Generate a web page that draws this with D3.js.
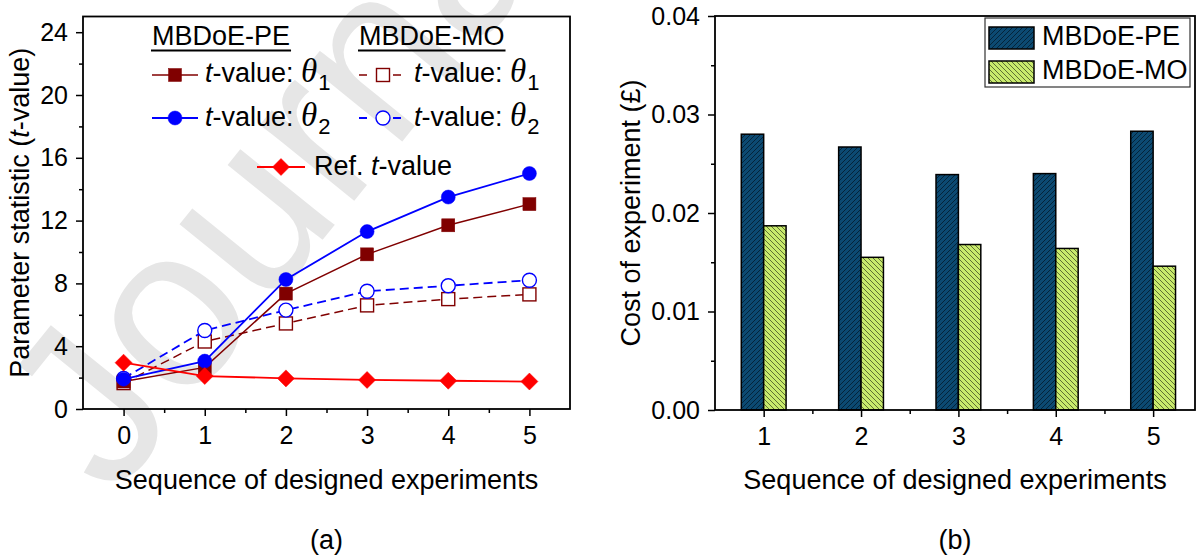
<!DOCTYPE html>
<html>
<head>
<meta charset="utf-8">
<script src="https://cdn.jsdelivr.net/npm/d3@7"></script>
<style>
  body { margin: 0; background: #fff; }
  svg { display: block; font-family: Arial, "Liberation Sans", sans-serif; }
</style>
</head>
<body>
<svg id="fig" width="1198" height="557"></svg>
<script>
// ---- data ----
// (a) t-values per designed experiment
const steps = [0, 1, 2, 3, 4, 5];
const peTheta1 = [1.75, 2.65, 7.35, 9.85, 11.7, 13.05];
const peTheta2 = [1.9, 3.05, 8.25, 11.3, 13.5, 15.0];
const moTheta1 = [1.65, 4.3, 5.45, 6.6, 7.0, 7.3];
const moTheta2 = [1.95, 5.0, 6.3, 7.5, 7.85, 8.2];
const refT = [2.95, 2.1, 1.95, 1.85, 1.8, 1.75];
const tTicks = [0, 4, 8, 12, 16, 20, 24];
const tMinor = [2, 6, 10, 14, 18, 22];
const stepMinor = [0.5, 1.5, 2.5, 3.5, 4.5];

// (b) cost per experiment
const experiments = [1, 2, 3, 4, 5];
const costPE = [0.0280, 0.0267, 0.0239, 0.0240, 0.0283];
const costMO = [0.0187, 0.0155, 0.0168, 0.0164, 0.0146];
const costTicks = [0, 0.01, 0.02, 0.03, 0.04];
const costMinor = [0.005, 0.015, 0.025, 0.035];
const expMinor = [1.5, 2.5, 3.5, 4.5];

const svg = d3.select('#fig');
const defs = svg.append('defs');

// hatch fills like Origin's
const hatchPE = defs.append('pattern').attr('id', 'hatchPE')
    .attr('patternUnits', 'userSpaceOnUse').attr('width', 5).attr('height', 5);
hatchPE.append('rect').attr('width', 5).attr('height', 5).attr('fill', '#0c4a72');
hatchPE.append('path').attr('d', 'M-1,1 L1,-1 M0,5 L5,0 M4,6 L6,4')
    .attr('stroke', '#04243a').attr('stroke-width', 1);

const hatchMO = defs.append('pattern').attr('id', 'hatchMO')
    .attr('patternUnits', 'userSpaceOnUse').attr('width', 5).attr('height', 5);
hatchMO.append('rect').attr('width', 5).attr('height', 5).attr('fill', '#c8ea6c');
hatchMO.append('path').attr('d', 'M-1,4 L1,6 M0,0 L5,5 M4,-1 L6,1')
    .attr('stroke', '#52622c').attr('stroke-width', 0.9);

// watermark
svg.append('text')
    .attr('transform', 'translate(112,500) rotate(-51)')
    .attr('font-size', 229)
    .attr('fill', '#e6e6e6')
    .text('Journal Pre-proof');

// draws ticks (major + minor) and a closed frame
function drawAxes(g, x, y, box, xMajor, xMin, yMajor, yMin, yFmt) {
    const styleAxis = sel => {
        sel.select('.domain').remove();
        sel.selectAll('.tick line').attr('stroke', '#000').attr('stroke-width', 1.5);
        sel.selectAll('.tick text').attr('fill', '#000').attr('font-size', 25)
            .attr('font-family', 'Arial, "Liberation Sans", sans-serif');
    };
    g.append('g').attr('transform', `translate(0,${box.bottom})`)
        .call(d3.axisBottom(x).tickValues(xMin).tickSize(4).tickFormat(''))
        .call(styleAxis);
    g.append('g').attr('transform', `translate(0,${box.bottom})`)
        .call(d3.axisBottom(x).tickValues(xMajor).tickSize(7).tickPadding(10).tickFormat(d3.format('d')))
        .call(styleAxis);
    g.append('g').attr('transform', `translate(${box.left},0)`)
        .call(d3.axisLeft(y).tickValues(yMin).tickSize(4).tickFormat(''))
        .call(styleAxis);
    g.append('g').attr('transform', `translate(${box.left},0)`)
        .call(d3.axisLeft(y).tickValues(yMajor).tickSize(7).tickPadding(8).tickFormat(yFmt))
        .call(styleAxis);
    g.append('rect')
        .attr('x', box.left).attr('y', box.top)
        .attr('width', box.right - box.left).attr('height', box.bottom - box.top)
        .attr('fill', 'none').attr('stroke', '#000').attr('stroke-width', 1.8);
}

function marker(g, type, cx, cy, color, filled) {
    const fill = filled ? color : '#fff';
    if (type === 'square') {
        g.append('rect').attr('x', cx - 6.5).attr('y', cy - 6.5).attr('width', 13).attr('height', 13)
            .attr('fill', fill).attr('stroke', color).attr('stroke-width', filled ? 0.5 : 1.4);
    } else if (type === 'circle') {
        g.append('circle').attr('cx', cx).attr('cy', cy).attr('r', 7)
            .attr('fill', fill).attr('stroke', color).attr('stroke-width', filled ? 0.5 : 1.4);
    } else {
        const h = 8.5;
        g.append('path').attr('d', `M${cx},${cy - h}L${cx + h},${cy}L${cx},${cy + h}L${cx - h},${cy}Z`)
            .attr('fill', fill).attr('stroke', color).attr('stroke-width', 0.5);
    }
}

// ================= (a) =================
const A = { left: 83, right: 570, top: 16.5, bottom: 409 };
const xA = d3.scaleLinear().domain([-0.5, 5.5]).range([A.left, A.right]);
const yA = d3.scaleLinear().domain([0, 25]).range([A.bottom, A.top]);
const gA = svg.append('g');
drawAxes(gA, xA, yA, A, steps, stepMinor, tTicks, tMinor, d3.format('d'));

const seriesA = [
    { values: moTheta1, color: '#800000', dash: '9,5', type: 'square', filled: false, width: 1.5 },
    { values: moTheta2, color: '#0000ff', dash: '9,5', type: 'circle', filled: false, width: 1.8 },
    { values: peTheta1, color: '#800000', dash: null, type: 'square', filled: true, width: 1.5 },
    { values: peTheta2, color: '#0000ff', dash: null, type: 'circle', filled: true, width: 1.8 },
    { values: refT, color: '#ff0000', dash: null, type: 'diamond', filled: true, width: 1.8 }
];

const lineA = d3.line().x((d, i) => xA(steps[i])).y(d => yA(d));
seriesA.forEach(s => {
    gA.append('path').attr('d', lineA(s.values))
        .attr('fill', 'none').attr('stroke', s.color).attr('stroke-width', s.width)
        .attr('stroke-dasharray', s.dash);
    s.values.forEach((v, i) => marker(gA, s.type, xA(steps[i]), yA(v), s.color, s.filled));
});

// legend (a)
const legA = gA.append('g').attr('font-size', 27).attr('fill', '#000');
[['MBDoE-PE', 152], ['MBDoE-MO', 359]].forEach(([label, x]) => {
    const t = legA.append('text').attr('x', x).attr('y', 45).text(label);
    const w = t.node().getComputedTextLength();
    legA.append('line').attr('x1', x - 1).attr('x2', x + w + 1).attr('y1', 50.5).attr('y2', 50.5)
        .attr('stroke', '#000').attr('stroke-width', 2);
});

function tLabel(x, y, sub) {
    const t = legA.append('text').attr('x', x).attr('y', y);
    t.append('tspan').attr('font-style', 'italic').text('t');
    t.append('tspan').text('-value: ');
    t.append('tspan').attr('font-style', 'italic')
        .attr('font-family', '"Liberation Serif", "DejaVu Serif", serif').attr('font-size', 33).text('\u03b8');
    t.append('tspan').attr('font-size', 22).attr('dy', 8).attr('dx', 1).text(sub);
}

function legSample(x1, x2, y, s) {
    legA.append('line').attr('x1', x1).attr('x2', x2).attr('y1', y).attr('y2', y)
        .attr('stroke', s.color).attr('stroke-width', s.width).attr('stroke-dasharray', s.dash ? '8,9' : null);
    marker(legA, s.type, (x1 + x2) / 2, y, s.color, s.filled);
}

legSample(152, 198, 75, seriesA[2]);
tLabel(205, 82, '1');
legSample(152, 198, 118, seriesA[3]);
tLabel(205, 126, '2');
legSample(359, 407, 75, seriesA[0]);
tLabel(414, 82, '1');
legSample(359, 407, 118, seriesA[1]);
tLabel(414, 126, '2');
legSample(257, 305, 167, seriesA[4]);
const refLab = legA.append('text').attr('x', 314).attr('y', 175);
refLab.append('tspan').text('Ref. ');
refLab.append('tspan').attr('font-style', 'italic').text('t');
refLab.append('tspan').text('-value');

// titles (a)
gA.append('text').attr('x', (A.left + A.right) / 2).attr('y', 489)
    .attr('text-anchor', 'middle').attr('font-size', 27).text('Sequence of designed experiments');
const yTitleA = gA.append('text').attr('transform', `translate(29,${(A.top + A.bottom) / 2}) rotate(-90)`)
    .attr('text-anchor', 'middle').attr('font-size', 27);
yTitleA.append('tspan').text('Parameter statistic (');
yTitleA.append('tspan').attr('font-style', 'italic').text('t');
yTitleA.append('tspan').text('-value)');
gA.append('text').attr('x', (A.left + A.right) / 2).attr('y', 549)
    .attr('text-anchor', 'middle').attr('font-size', 27).text('(a)');

// ================= (b) =================
const B = { left: 715, right: 1195, top: 16, bottom: 410 };
const xB = d3.scaleLinear().domain([0.5, 5.43]).range([B.left, B.right]);
const yB = d3.scaleLinear().domain([0, 0.04]).range([B.bottom, B.top]);
const gB = svg.append('g');

const barW = xB(1.23) - xB(1);
gB.selectAll('rect.pe').data(costPE).join('rect').attr('class', 'pe')
    .attr('x', (d, i) => xB(experiments[i]) - barW).attr('width', barW)
    .attr('y', d => yB(d)).attr('height', d => yB(0) - yB(d))
    .attr('fill', 'url(#hatchPE)').attr('stroke', '#000').attr('stroke-width', 1.5);
gB.selectAll('rect.mo').data(costMO).join('rect').attr('class', 'mo')
    .attr('x', (d, i) => xB(experiments[i])).attr('width', barW)
    .attr('y', d => yB(d)).attr('height', d => yB(0) - yB(d))
    .attr('fill', 'url(#hatchMO)').attr('stroke', '#000').attr('stroke-width', 1.5);

drawAxes(gB, xB, yB, B, experiments, expMinor, costTicks, costMinor, d3.format('.2f'));

// legend (b)
const legB = gB.append('g').attr('font-size', 27);
legB.append('rect').attr('x', 985).attr('y', 18).attr('width', 205).attr('height', 69)
    .attr('fill', '#fff').attr('stroke', '#333').attr('stroke-width', 1.2);
[['MBDoE-PE', 'url(#hatchPE)', 27], ['MBDoE-MO', 'url(#hatchMO)', 61]].forEach(([label, fill, y]) => {
    legB.append('rect').attr('x', 989).attr('y', y).attr('width', 45).attr('height', 22)
        .attr('fill', fill).attr('stroke', '#000').attr('stroke-width', 1.5);
    legB.append('text').attr('x', 1042).attr('y', y + 18).text(label);
});

// titles (b)
gB.append('text').attr('x', (B.left + B.right) / 2).attr('y', 489)
    .attr('text-anchor', 'middle').attr('font-size', 27).text('Sequence of designed experiments');
gB.append('text').attr('transform', `translate(640,${(B.top + B.bottom) / 2}) rotate(-90)`)
    .attr('text-anchor', 'middle').attr('font-size', 27).text('Cost of experiment (\u00a3)');
gB.append('text').attr('x', (B.left + B.right) / 2).attr('y', 549)
    .attr('text-anchor', 'middle').attr('font-size', 27).text('(b)');
</script>
</body>
</html>
